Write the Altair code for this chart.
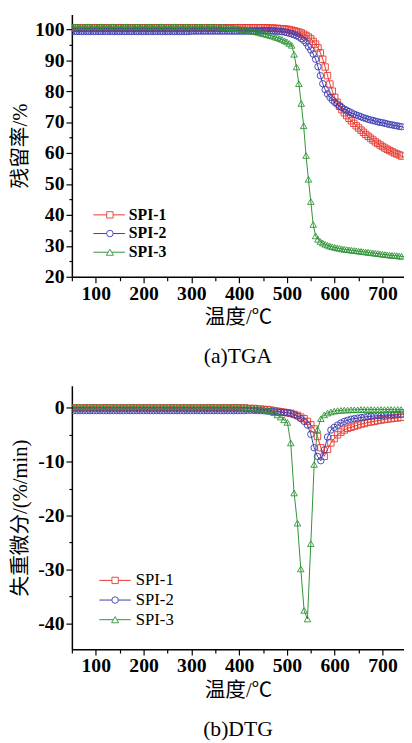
import altair as alt
import pandas as pd

SERIES = ["SPI-1", "SPI-2", "SPI-3"]
COLORS = ["#e5372e", "#3a3ab4", "#2f9336"]
SHAPES = ["square", "circle", "triangle-up"]
SIZES = [42, 44, 52]

X_TICKS = [50, 100, 150, 200, 250, 300, 350, 400, 450, 500, 550, 600, 650, 700]
TGA_Y_TICKS = [20, 25, 30, 35, 40, 45, 50, 55, 60, 65, 70, 75, 80, 85, 90, 95, 100]
DTG_Y_TICKS = [-40, -35, -30, -25, -20, -15, -10, -5, 0]

# ---------------- TGA (temperature every 5 degC) ----------------
T_TGA = [50, 55, 60, 65, 70, 75, 80, 85, 90, 95,
         100, 105, 110, 115, 120, 125, 130, 135, 140, 145,
         150, 155, 160, 165, 170, 175, 180, 185, 190, 195,
         200, 205, 210, 215, 220, 225, 230, 235, 240, 245,
         250, 255, 260, 265, 270, 275, 280, 285, 290, 295,
         300, 305, 310, 315, 320, 325, 330, 335, 340, 345,
         350, 355, 360, 365, 370, 375, 380, 385, 390, 395,
         400, 405, 410, 415, 420, 425, 430, 435, 440, 445,
         450, 455, 460, 465, 470, 475, 480, 485, 490, 495,
         500, 505, 510, 515, 520, 525, 530, 535, 540, 545,
         550, 555, 560, 565, 570, 575, 580, 585, 590, 595,
         600, 605, 610, 615, 620, 625, 630, 635, 640, 645,
         650, 655, 660, 665, 670, 675, 680, 685, 690, 695,
         700, 705, 710, 715, 720, 725, 730, 735, 740, 745,
         750]

TGA_SPI1 = [100.5, 100.5, 100.5, 100.5, 100.5, 100.5, 100.5, 100.5, 100.5, 100.5,
            100.5, 100.5, 100.5, 100.5, 100.5, 100.5, 100.5, 100.5, 100.5, 100.5,
            100.5, 100.5, 100.5, 100.5, 100.5, 100.5, 100.5, 100.5, 100.5, 100.5,
            100.5, 100.5, 100.5, 100.5, 100.5, 100.5, 100.5, 100.5, 100.5, 100.5,
            100.5, 100.5, 100.5, 100.5, 100.5, 100.5, 100.5, 100.5, 100.5, 100.5,
            100.5, 100.5, 100.5, 100.5, 100.5, 100.5, 100.5, 100.5, 100.5, 100.5,
            100.5, 100.5, 100.5, 100.5, 100.5, 100.5, 100.5, 100.5, 100.5, 100.5,
            100.5, 100.5, 100.5, 100.5, 100.5, 100.5, 100.5, 100.5, 100.5, 100.5,
            100.5, 100.5, 100.4, 100.4, 100.4, 100.3, 100.3, 100.2, 100.2, 100.1,
            100.0, 99.9, 99.7, 99.5, 99.3, 99.1, 98.8, 98.4, 98.0, 97.5,
            96.9, 96.1, 95.2, 94.0, 92.4, 90.3, 87.8, 85.0, 82.3, 80.0,
            78.0, 76.4, 75.1, 74.0, 73.0, 72.1, 71.2, 70.4, 69.6, 68.8,
            68.1, 67.4, 66.7, 66.0, 65.4, 64.8, 64.2, 63.6, 63.1, 62.6,
            62.1, 61.6, 61.2, 60.8, 60.4, 60.0, 59.7, 59.4, 59.0, 58.7,
            58.4]

TGA_SPI2 = [99.3, 99.3, 99.3, 99.3, 99.3, 99.3, 99.3, 99.3, 99.3, 99.3,
            99.3, 99.3, 99.3, 99.3, 99.3, 99.3, 99.3, 99.3, 99.3, 99.3,
            99.3, 99.3, 99.3, 99.3, 99.3, 99.3, 99.3, 99.3, 99.3, 99.3,
            99.3, 99.3, 99.3, 99.3, 99.3, 99.3, 99.3, 99.3, 99.3, 99.3,
            99.3, 99.3, 99.3, 99.3, 99.3, 99.3, 99.3, 99.3, 99.3, 99.3,
            99.4, 99.4, 99.4, 99.4, 99.4, 99.4, 99.4, 99.4, 99.4, 99.4,
            99.4, 99.4, 99.4, 99.4, 99.4, 99.4, 99.4, 99.4, 99.4, 99.4,
            99.4, 99.4, 99.4, 99.4, 99.4, 99.4, 99.4, 99.4, 99.4, 99.4,
            99.5, 99.5, 99.5, 99.5, 99.5, 99.4, 99.4, 99.3, 99.2, 99.1,
            98.9, 98.7, 98.5, 98.2, 97.9, 97.5, 97.0, 96.4, 95.6, 94.4,
            93.3, 92.0, 90.3, 87.9, 85.0, 82.4, 80.5, 79.1, 78.0, 77.1,
            76.4, 75.8, 75.2, 74.7, 74.2, 73.8, 73.4, 73.0, 72.6, 72.3,
            72.0, 71.7, 71.4, 71.2, 70.9, 70.7, 70.5, 70.3, 70.1, 69.9,
            69.8, 69.6, 69.4, 69.2, 69.1, 68.9, 68.8, 68.6, 68.5, 68.3,
            68.2]

TGA_SPI3 = [100.8, 100.8, 100.8, 100.8, 100.8, 100.8, 100.8, 100.8, 100.8, 100.8,
            100.8, 100.8, 100.8, 100.8, 100.8, 100.8, 100.8, 100.8, 100.8, 100.8,
            100.8, 100.8, 100.8, 100.8, 100.8, 100.8, 100.8, 100.8, 100.8, 100.8,
            100.8, 100.8, 100.8, 100.8, 100.8, 100.8, 100.8, 100.8, 100.8, 100.8,
            100.8, 100.8, 100.8, 100.8, 100.8, 100.8, 100.8, 100.8, 100.8, 100.8,
            100.8, 100.8, 100.8, 100.8, 100.8, 100.8, 100.8, 100.8, 100.8, 100.8,
            100.8, 100.8, 100.7, 100.7, 100.6, 100.6, 100.5, 100.4, 100.3, 100.2,
            100.1, 100.0, 99.9, 99.8, 99.6, 99.5, 99.3, 99.2, 99.0, 98.8,
            98.6, 98.4, 98.2, 98.0, 97.8, 97.5, 97.3, 97.0, 96.7, 96.3,
            95.9, 95.4, 94.8, 91.9, 87.8, 82.4, 76.0, 68.8, 59.2, 51.5,
            44.3, 36.9, 33.2, 32.1, 31.4, 30.9, 30.5, 30.2, 29.9, 29.7,
            29.5, 29.3, 29.2, 29.0, 28.9, 28.8, 28.7, 28.6, 28.5, 28.4,
            28.3, 28.2, 28.1, 28.0, 27.9, 27.8, 27.7, 27.6, 27.5, 27.4,
            27.3, 27.2, 27.1, 27.0, 26.9, 26.9, 26.8, 26.7, 26.6, 26.5,
            26.5]

# ---------------- DTG (temperature every 7 degC) ----------------
T_DTG = [46, 53, 60, 67, 74, 81, 88, 95, 102, 109,
         116, 123, 130, 137, 144, 151, 158, 165, 172, 179,
         186, 193, 200, 207, 214, 221, 228, 235, 242, 249,
         256, 263, 270, 277, 284, 291, 298, 305, 312, 319,
         326, 333, 340, 347, 354, 361, 368, 375, 382, 389,
         396, 403, 410, 417, 424, 431, 438, 445, 452, 459,
         466, 473, 480, 487, 494, 501, 508, 515, 522, 529,
         536, 543, 550, 557, 564, 571, 578, 585, 592, 599,
         606, 613, 620, 627, 634, 641, 648, 655, 662, 669,
         676, 683, 690, 697, 704, 711, 718, 725, 732, 739,
         746]

DTG_SPI1 = [0.0, 0.0, 0.0, 0.0, 0.0, 0.0, 0.0, 0.0, 0.0, 0.0,
            0.0, 0.0, 0.0, 0.0, 0.0, 0.0, 0.0, 0.0, 0.0, 0.0,
            0.0, 0.0, 0.0, 0.0, 0.0, 0.0, 0.0, 0.0, 0.0, 0.0,
            0.0, 0.0, 0.0, 0.0, 0.0, 0.0, 0.0, 0.0, 0.0, 0.0,
            0.0, 0.0, 0.0, 0.0, 0.0, 0.0, 0.0, 0.0, 0.0, 0.0,
            0.0, 0.0, 0.0, -0.1, -0.1, -0.1, -0.2, -0.2, -0.3, -0.3,
            -0.4, -0.5, -0.6, -0.7, -0.8, -0.9, -1.0, -1.2, -1.4, -1.7,
            -2.0, -2.5, -3.1, -3.9, -5.3, -7.4, -9.0, -7.7, -6.5, -5.7,
            -5.0, -4.5, -4.1, -3.8, -3.6, -3.4, -3.2, -3.0, -2.9, -2.7,
            -2.6, -2.5, -2.35, -2.25, -2.15, -2.05, -2.0, -1.9, -1.85, -1.75,
            -1.7]

DTG_SPI2 = [-0.5, -0.5, -0.5, -0.5, -0.5, -0.5, -0.5, -0.5, -0.5, -0.5,
            -0.5, -0.5, -0.5, -0.5, -0.5, -0.5, -0.5, -0.5, -0.5, -0.5,
            -0.5, -0.5, -0.5, -0.5, -0.5, -0.5, -0.5, -0.5, -0.5, -0.5,
            -0.5, -0.5, -0.5, -0.5, -0.5, -0.5, -0.5, -0.5, -0.5, -0.5,
            -0.5, -0.5, -0.5, -0.5, -0.5, -0.5, -0.5, -0.5, -0.5, -0.5,
            -0.5, -0.5, -0.5, -0.45, -0.45, -0.45, -0.5, -0.5, -0.55, -0.6,
            -0.65, -0.7, -0.75, -0.8, -0.85, -0.9, -1.0, -1.25, -1.55, -2.0,
            -2.5, -3.2, -4.9, -7.4, -9.0, -9.8, -7.8, -5.4, -4.1, -3.6,
            -3.2, -2.8, -2.5, -2.3, -2.1, -2.0, -1.9, -1.8, -1.7, -1.6,
            -1.55, -1.5, -1.45, -1.4, -1.35, -1.3, -1.3, -1.25, -1.2, -1.15,
            -1.1]

DTG_SPI3 = [0.2, 0.2, 0.2, 0.2, 0.2, 0.2, 0.2, 0.2, 0.2, 0.2,
            0.2, 0.2, 0.2, 0.2, 0.2, 0.2, 0.2, 0.2, 0.2, 0.2,
            0.2, 0.2, 0.2, 0.2, 0.2, 0.2, 0.2, 0.2, 0.2, 0.2,
            0.2, 0.2, 0.2, 0.2, 0.2, 0.2, 0.2, 0.2, 0.2, 0.2,
            0.2, 0.2, 0.2, 0.2, 0.2, 0.2, 0.2, 0.2, 0.2, 0.2,
            0.2, 0.2, 0.1, 0.1, 0.0, 0.0, -0.1, -0.2, -0.3, -0.4,
            -0.6, -0.9, -1.3, -1.7, -2.2, -2.7, -6.5, -15.8, -21.4, -29.9,
            -37.6, -39.2, -25.2, -10.5, -4.0, -2.0, -1.3, -0.95, -0.75, -0.6,
            -0.5, -0.45, -0.4, -0.4, -0.35, -0.35, -0.35, -0.3, -0.3, -0.3,
            -0.3, -0.3, -0.3, -0.3, -0.3, -0.3, -0.3, -0.3, -0.3, -0.3,
            -0.3]

LATIN = "Liberation Serif"
MIXED = "Liberation Serif, Noto Sans CJK SC"
X_MIN, X_MAX = 50, 745


def long_table(T, arrays):
    rows = []
    for name, arr in zip(SERIES, arrays):
        for t, v in zip(T, arr):
            rows.append({"T": t, "v": v, "series": name})
    return pd.DataFrame(rows)


def panel(T, arrays, ydom, yticks, ytitle, height, leg, leg_bold, leg_size, caption, cap_offset):
    df = long_table(T, arrays)
    x_enc = alt.X(
        "T:Q",
        scale=alt.Scale(domain=[X_MIN, X_MAX], nice=False, zero=False),
        axis=alt.Axis(
            values=X_TICKS,
            labelExpr="datum.value % 100 === 0 ? '' + datum.value : ''",
            tickSize={"condition": {"test": "datum.value % 100 === 0", "value": 6}, "value": 4},
            title="温度/℃",
            titleFont=MIXED, titleFontSize=21, titleFontWeight="normal", titleColor="black",
            titlePadding=4,
            labelFont=LATIN, labelFontSize=20, labelFontWeight="bold", labelColor="black",
            labelPadding=1, labelOverlap=False, labelFlush=False,
            domainColor="black", domainWidth=1.5, tickColor="black", tickWidth=1.2,
            grid=False,
        ),
    )
    lab = ("datum.value % 10 === 0 ? "
           "(datum.value < 0 ? '-' + abs(datum.value) : '' + datum.value) : ''")
    y_enc = alt.Y(
        "v:Q",
        scale=alt.Scale(domain=ydom, nice=False, zero=False),
        axis=alt.Axis(
            values=yticks,
            labelExpr=lab,
            tickSize={"condition": {"test": "datum.value % 10 === 0", "value": 6}, "value": 3},
            title=ytitle,
            titleFont=MIXED, titleFontSize=21, titleFontWeight="normal", titleColor="black",
            titleX=-52, titleBaseline="middle",
            labelFont=LATIN, labelFontSize=20, labelFontWeight="bold", labelColor="black",
            labelPadding=2, labelOverlap=False, labelFlush=False,
            domainColor="black", domainWidth=1.5, tickColor="black", tickWidth=1.2,
            grid=False,
        ),
    )
    color = alt.Color("series:N", scale=alt.Scale(domain=SERIES, range=COLORS), legend=None)
    lines = alt.Chart(df).transform_filter(
        (alt.datum.T >= X_MIN) & (alt.datum.T <= X_MAX + 1)
    ).mark_line(strokeWidth=1, clip=True).encode(
        x=x_enc, y=y_enc, color=color, detail="series:N"
    )
    pts = alt.Chart(df).transform_filter(
        (alt.datum.T >= X_MIN) & (alt.datum.T <= X_MAX - 5)
    ).mark_point(filled=False, strokeWidth=0.9, opacity=1, clip=True).encode(
        x=x_enc, y=y_enc, color=color,
        shape=alt.Shape("series:N", scale=alt.Scale(domain=SERIES, range=SHAPES), legend=None),
        size=alt.Size("series:N", scale=alt.Scale(domain=SERIES, range=SIZES), legend=None),
    )
    layers = [lines, pts]
    leg_df = pd.DataFrame({"series": SERIES})
    x0, x1, xm, xt, ys = leg
    for i, name in enumerate(SERIES):
        base = alt.Chart(leg_df).transform_filter(alt.datum.series == name)
        layers.append(base.mark_rule(color=COLORS[i], strokeWidth=1).encode(
            x=alt.value(x0), x2=alt.value(x1), y=alt.value(ys[i])))
        layers.append(base.mark_point(shape=SHAPES[i], size=SIZES[i], filled=True, fill="white",
                                      stroke=COLORS[i], strokeWidth=0.9, opacity=1).encode(
            x=alt.value(xm), y=alt.value(ys[i])))
        layers.append(base.mark_text(align="left", baseline="middle", font=LATIN,
                                     fontSize=leg_size,
                                     fontWeight="bold" if leg_bold else "normal",
                                     color="black").encode(
            x=alt.value(xt), y=alt.value(ys[i]), text="series:N"))
    return alt.layer(*layers).properties(
        width=338, height=height,
        title=alt.TitleParams(caption, orient="bottom", font=LATIN, fontSize=22,
                              fontWeight="normal", color="black", offset=cap_offset,
                              anchor="middle"),
    )


top = panel(T_TGA, [TGA_SPI1, TGA_SPI2, TGA_SPI3], [20, 104.8], TGA_Y_TICKS,
            "残留率/%", 267, (22, 54, 38.7, 58, [204, 223, 242]), True, 16, "(a)TGA", 19)
bottom = panel(T_DTG, [DTG_SPI1, DTG_SPI2, DTG_SPI3], [-44.8, 4.1], DTG_Y_TICKS,
               "失重微分/(%/min)", 268, (28, 60, 44, 65, [198, 218, 238]), False, 17, "(b)DTG", 19)

chart = alt.vconcat(top, bottom, spacing=19).properties(
    padding={"left": 1, "top": 0, "right": 0, "bottom": 0}
).configure_view(stroke=None)

chart.save("out.html", embed_options={"renderer": "svg", "actions": False})
